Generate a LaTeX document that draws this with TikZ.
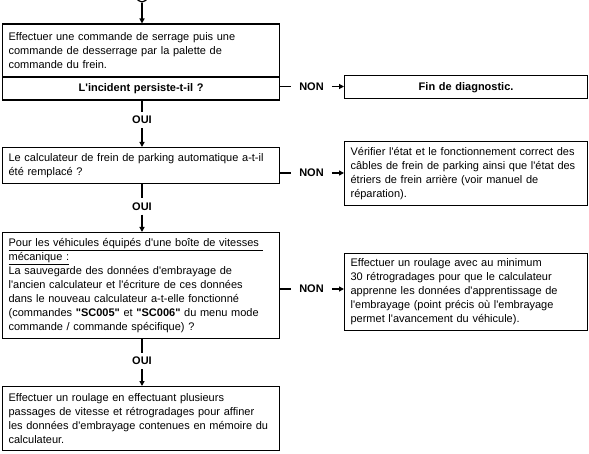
\documentclass[tikz,border=0pt]{standalone}
\usepackage{fontspec}
\setmainfont{Liberation Sans}[Ligatures=TeXOff]
\usetikzlibrary{arrows.meta, positioning}

\begin{document}
\begin{tikzpicture}[x=1pt, y=-1pt,
  every node/.style={font=\fontsize{11}{14}\selectfont},
  box/.style={draw, line width=1.2pt, anchor=north west, align=left, inner xsep=6pt, inner ysep=0pt},
  lbox/.style={box, text width=265pt},
  rbox/.style={box, text width=231pt},
  reply/.style={font=\fontsize{11}{14}\selectfont\bfseries, inner xsep=8pt, inner ysep=4pt},
  link/.style={line width=1.2pt},
  arrow/.style={link, -{Triangle[length=5pt,width=5pt]}}]
  \useasboundingbox (0,0) rectangle (589,454);

  % Start connector
  \node[draw, circle, line width=1.2pt, minimum size=11pt, inner sep=0pt] (start) at (142,-3.5) {};

  % Boxes on the left
  \node[lbox, minimum height=52.2pt] (serrage) at (2,23.5)
    {Effectuer une commande de serrage puis une\\commande de desserrage par la palette de\\commande du frein.};
  \node[lbox, align=center, font=\fontsize{11}{14}\selectfont\bfseries, minimum height=22.6pt] (persiste) at (serrage.south west)
    {L'incident persiste-t-il ?};
  \node[lbox, minimum height=36pt] (remplace) at (2,147)
    {Le calculateur de frein de parking automatique a-t-il\\été remplacé ?};
  \node[lbox, minimum height=106pt] (sauvegarde) at (2,232)
    {\underline{Pour les véhicules équipés d'une boîte de vitesses\ }\\\underline{mécanique :}\\La sauvegarde des données d'embrayage de\\l'ancien calculateur et l'écriture de ces données\\dans le nouveau calculateur a-t-elle fonctionné\\(commandes \textbf{"SC005"} et \textbf{"SC006"} du menu mode\\commande / commande spécifique) ?};
  \node[lbox, minimum height=64pt] (roulage) at (2,386)
    {Effectuer un roulage en effectuant plusieurs\\passages de vitesse et rétrogradages pour affiner\\les données d'embrayage contenues en mémoire du\\calculateur.};

  % Boxes on the right
  \node[rbox, align=center, font=\fontsize{11}{14}\selectfont\bfseries, minimum height=23.3pt] (fin) at (344,75)
    {Fin de diagnostic.};
  \node[rbox, minimum height=64pt] (cables) at (344,141)
    {Vérifier l'état et le fonctionnement correct des\\câbles de frein de parking ainsi que l'état des\\étriers de frein arrière (voir manuel de\\réparation).};
  \node[rbox, minimum height=77pt] (roulage30) at (344,253)
    {Effectuer un roulage avec au minimum\\30 rétrogradages pour que le calculateur\\apprenne les données d'apprentissage de\\l'embrayage (point précis où l'embrayage\\permet l'avancement du véhicule).};

  % Answers
  \node[reply] (non1) at (311.5,86.5) {NON};
  \node[reply] (non2) at (311.5,173) {NON};
  \node[reply] (non3) at (311.5,289) {NON};
  \node[reply] (oui1) at (142,120) {OUI};
  \node[reply] (oui2) at (142,206.5) {OUI};
  \node[reply] (oui3) at (142,361) {OUI};

  % Vertical flow
  \draw[arrow] (start.south) -- (start.south |- serrage.north);
  \draw[link] (persiste.south -| start) -- (oui1.north);
  \draw[arrow] (oui1.south) -- (oui1.south |- remplace.north);
  \draw[link] (remplace.south -| start) -- (oui2.north);
  \draw[arrow] (oui2.south) -- (oui2.south |- sauvegarde.north);
  \draw[link] (sauvegarde.south -| start) -- (oui3.north);
  \draw[arrow] (oui3.south) -- (oui3.south |- roulage.north);

  % NON branches
  \draw[link] (persiste.east |- non1) -- (non1.west);
  \draw[arrow] (non1.east) -- (non1.east -| fin.west);
  \draw[link] (remplace.east |- non2) -- (non2.west);
  \draw[arrow] (non2.east) -- (non2.east -| cables.west);
  \draw[link] (sauvegarde.east |- non3) -- (non3.west);
  \draw[arrow] (non3.east) -- (non3.east -| roulage30.west);
\end{tikzpicture}
\end{document}
